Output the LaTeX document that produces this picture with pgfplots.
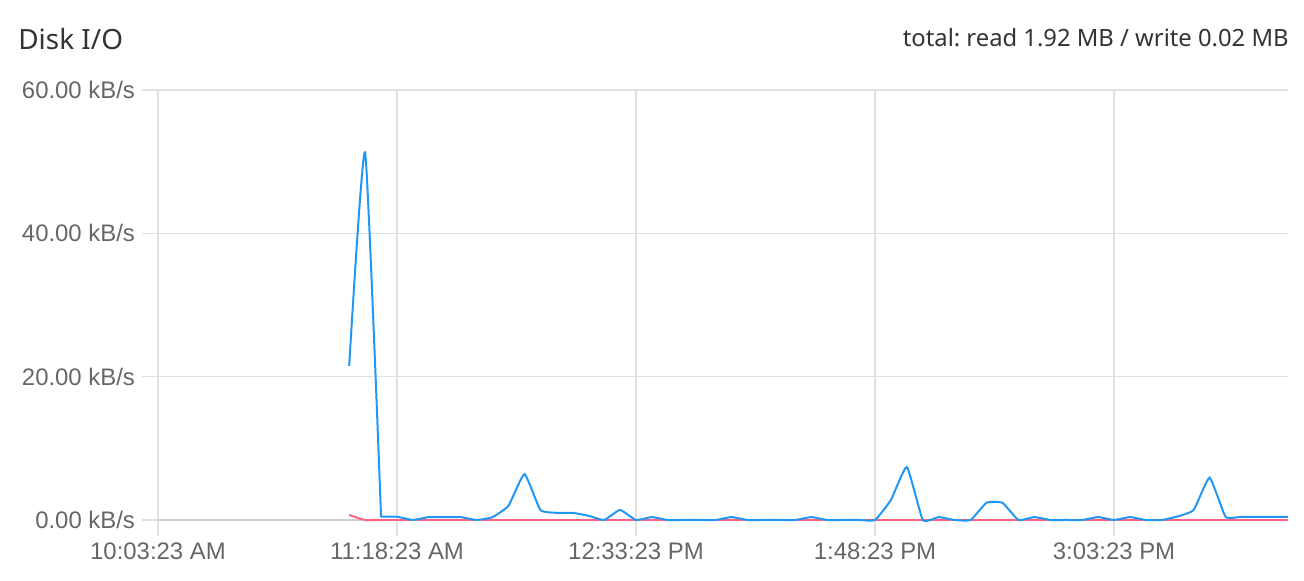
\documentclass[border=0pt]{standalone}
\usepackage{pgfplots}
\pgfplotsset{compat=1.18}
\usepackage{fontspec}
\setmainfont{Liberation Sans}
\newfontfamily\titlefont{Noto Sans}
\frenchspacing

\definecolor{readblue}{RGB}{33,150,243}
\definecolor{writered}{RGB}{255,99,132}
\definecolor{gridgray}{RGB}{224,224,224}
\definecolor{zeroline}{RGB}{205,205,205}
\definecolor{ticktext}{RGB}{102,102,102}
\definecolor{titletext}{RGB}{51,51,51}

% x = minutes after 10:03:23 AM, y = kB/s
\begin{document}
\begin{tikzpicture}
\begin{axis}[
  scale only axis, width=565bp, height=215bp,
  xmin=0, xmax=354.6, ymin=0, ymax=60,
  axis x line*=bottom, axis y line*=left,
  x axis line style={draw=zeroline, line width=1bp, -},
  y axis line style={draw=gridgray, line width=0.8bp, -},
  xtick={0,75,150,225,300},
  xticklabels={10:03:23 AM,11:18:23 AM,12:33:23 PM,1:48:23 PM,3:03:23 PM},
  ytick={0,20,40,60},
  yticklabels={0.00 kB/s,20.00 kB/s,40.00 kB/s,60.00 kB/s},
  grid=major, grid style={draw=gridgray, line width=0.8bp},
  tick align=outside, major tick length=8bp,
  tick style={draw=gridgray, line width=0.8bp},
  tick label style={font=\fontsize{12}{14}\selectfont, text=ticktext},
  /pgf/number format/assume math mode=true,
  clip=false,
]
\path (axis description cs:-0.13982,-0.14186) rectangle (axis description cs:1.01416,1.2093);

% write
\addplot[writered, line width=1bp, smooth, tension=0.3] coordinates {
  (60,0.7)(65,0)(70,0)};
\addplot[writered, line width=1bp] coordinates {
  (70,0)(354.6,0)};

% read: spike
\addplot[readblue, line width=1bp, smooth, tension=0.3] coordinates {
  (60,21.5)(65,51.3)(70,0.45)};
% read: rest
\addplot[readblue, line width=1bp, smooth, tension=0.25] coordinates {
  (70,0.45)(75,0.45)(80,0)(85,0.4)(90,0.4)(95,0.4)(100,0)(105,0.4)
  (110,2.0)(115,6.4)(120,1.4)(125,1.0)(130,1.0)(135,0.6)(140,0)
  (145,1.4)(150,0)(155,0.4)(160,0)(165,0)(170,0)(175,0)(180,0.4)
  (185,0)(190,0)(195,0)(200,0)(205,0.4)(210,0)(215,0)(220,0)(225,0)
  (230,2.8)(235,7.4)(240,0)(245,0.4)(250,0)(255,0)(260,2.4)(265,2.4)
  (270,0)(275,0.4)(280,0)(285,0)(290,0)(295,0.4)(300,0)(305,0.4)
  (310,0)(315,0)(320,0.5)(325,1.4)(330,5.9)(335,0.45)(340,0.45)
  (345,0.45)(350,0.45)(354.6,0.45)};

\node[anchor=base west, inner sep=0, font=\titlefont\fontsize{14}{16}\selectfont, text=titletext]
  at (axis description cs:-0.1239,1.093) {Disk I/O};
\node[anchor=base east, inner sep=0, font=\titlefont\fontsize{11.95}{13}\selectfont, text=titletext]
  at (axis description cs:1.0009,1.1023) {total: read 1.92 MB / write 0.02 MB};
\end{axis}
\end{tikzpicture}
\end{document}
